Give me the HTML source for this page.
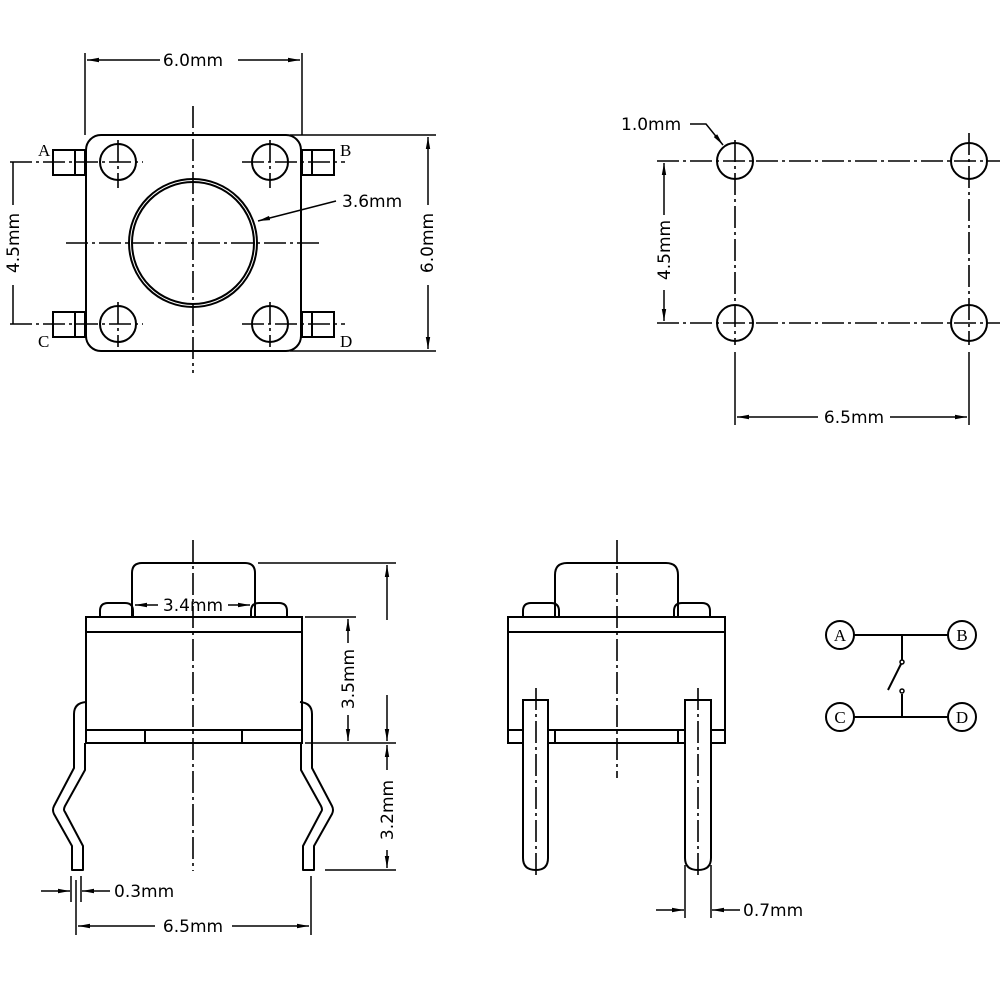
<!DOCTYPE html>
<html><head><meta charset="utf-8"><style>
html,body{margin:0;padding:0;background:#fff;}
svg{display:block;}
text{font-family:"DejaVu Sans","Liberation Sans",sans-serif;font-size:17px;fill:#000;}
.s{font-family:"Liberation Serif",serif;font-size:17px;}
</style></head><body>
<svg width="1000" height="1000" viewBox="0 0 1000 1000" xmlns="http://www.w3.org/2000/svg">
<defs>
<marker id="a" viewBox="0 0 12 6" refX="12" refY="3" markerWidth="12" markerHeight="6" orient="auto-start-reverse" markerUnits="userSpaceOnUse"><path d="M0,0.8 L12,3 L0,5.2 z" fill="#000"/></marker>
</defs>
<g fill="none" stroke="#000" stroke-width="2">
<!-- ===== TOP LEFT ===== -->
<rect x="86" y="135" width="215" height="216" rx="15"/>
<rect x="53" y="150" width="32" height="25"/><line x1="75" y1="150" x2="75" y2="175"/>
<rect x="53" y="312" width="32" height="25"/><line x1="75" y1="312" x2="75" y2="337"/>
<rect x="302" y="150" width="32" height="25"/><line x1="312" y1="150" x2="312" y2="175"/>
<rect x="302" y="312" width="32" height="25"/><line x1="312" y1="312" x2="312" y2="337"/>
<circle cx="118" cy="162" r="18"/><circle cx="270" cy="162" r="18"/>
<circle cx="118" cy="324" r="18"/><circle cx="270" cy="324" r="18"/>
<circle cx="193" cy="243" r="64"/><circle cx="193" cy="243" r="61"/>
<g stroke-width="1.6" stroke-dasharray="22,4,3,4">
<line x1="193" y1="106" x2="193" y2="373"/>
<line x1="66" y1="243" x2="322" y2="243"/>
<line x1="118" y1="140" x2="118" y2="188"/><line x1="270" y1="140" x2="270" y2="188"/>
<line x1="118" y1="302" x2="118" y2="347"/><line x1="270" y1="302" x2="270" y2="347"/>
<line x1="10" y1="162" x2="143" y2="162"/><line x1="242" y1="162" x2="345" y2="162"/>
<line x1="10" y1="324" x2="143" y2="324"/><line x1="242" y1="324" x2="345" y2="324"/>
</g>
<g stroke-width="1.5">
<line x1="85" y1="53" x2="85" y2="135"/><line x1="302" y1="53" x2="302" y2="135"/>
<line x1="87" y1="60" x2="160" y2="60" marker-start="url(#a)"/><line x1="238" y1="60" x2="300" y2="60" marker-end="url(#a)"/>
<line x1="290" y1="135" x2="436" y2="135"/><line x1="290" y1="351" x2="436" y2="351"/>
<line x1="428" y1="137" x2="428" y2="205" marker-start="url(#a)"/><line x1="428" y1="285" x2="428" y2="349" marker-end="url(#a)"/>
<line x1="13" y1="162" x2="13" y2="205"/><line x1="13" y1="285" x2="13" y2="324"/>
<line x1="336" y1="201" x2="258" y2="221" marker-end="url(#a)"/>
</g>
<!-- ===== TOP RIGHT ===== -->
<circle cx="735" cy="161" r="18"/><circle cx="969" cy="161" r="18"/>
<circle cx="735" cy="323" r="18"/><circle cx="969" cy="323" r="18"/>
<g stroke-width="1.6" stroke-dasharray="22,4,3,4">
<line x1="657" y1="161" x2="1000" y2="161"/><line x1="657" y1="323" x2="1000" y2="323"/>
<line x1="735" y1="140" x2="735" y2="345"/><line x1="969" y1="133" x2="969" y2="345"/>
</g>
<g stroke-width="1.5">
<line x1="735" y1="352" x2="735" y2="425"/><line x1="969" y1="352" x2="969" y2="425"/>
<line x1="737" y1="417" x2="818" y2="417" marker-start="url(#a)"/><line x1="890" y1="417" x2="967" y2="417" marker-end="url(#a)"/>
<line x1="664" y1="163" x2="664" y2="215" marker-start="url(#a)"/><line x1="664" y1="290" x2="664" y2="321" marker-end="url(#a)"/>
<polyline points="690,124 706,124 723,145" marker-end="url(#a)"/>
</g>
<!-- ===== BOTTOM LEFT ===== -->
<path d="M132,617 V573 Q132,563 142,563 H245 Q255,563 255,573 V617"/>
<path d="M100,617 V611 Q100,603 108,603 H125 Q133,603 133,611 V617"/>
<path d="M251,617 V611 Q251,603 259,603 H279 Q287,603 287,611 V617"/>
<rect x="86" y="617" width="216" height="126"/>
<line x1="86" y1="632" x2="302" y2="632"/><line x1="86" y1="730" x2="302" y2="730"/>
<line x1="145" y1="730" x2="145" y2="743"/><line x1="242" y1="730" x2="242" y2="743"/>
<g stroke-linejoin="round">
<path d="M86,702 Q74,703 74,714 V768 L54,806 Q52,810 54,814 L72,846 V870 H83 V846 L65,812 Q63,810 65,806 L85,770 V743"/>
<path d="M300,702 Q312,703 312,714 V768 L332,806 Q334,810 332,814 L314,846 V870 H303 V846 L321,812 Q323,810 321,806 L301,770 V743"/>
</g>
<line x1="193" y1="540" x2="193" y2="871" stroke-width="1.6" stroke-dasharray="22,4,3,4"/>
<g stroke-width="1.5">
<line x1="135" y1="605" x2="158" y2="605" marker-start="url(#a)"/><line x1="228" y1="605" x2="250" y2="605" marker-end="url(#a)"/>
<line x1="258" y1="563" x2="396" y2="563"/><line x1="305" y1="617" x2="356" y2="617"/>
<line x1="305" y1="743" x2="396" y2="743"/><line x1="325" y1="870" x2="396" y2="870"/>
<line x1="387" y1="565" x2="387" y2="620" marker-start="url(#a)"/><line x1="387" y1="695" x2="387" y2="741" marker-end="url(#a)"/>
<line x1="348" y1="619" x2="348" y2="643" marker-start="url(#a)"/><line x1="348" y1="715" x2="348" y2="741" marker-end="url(#a)"/>
<line x1="387" y1="745" x2="387" y2="770" marker-start="url(#a)"/><line x1="387" y1="850" x2="387" y2="868" marker-end="url(#a)"/>
<line x1="71" y1="876" x2="71" y2="902"/><line x1="81" y1="876" x2="81" y2="902"/>
<line x1="41" y1="891" x2="70" y2="891" marker-end="url(#a)"/><line x1="110" y1="891" x2="82" y2="891" marker-end="url(#a)"/>
<line x1="76" y1="880" x2="76" y2="935"/><line x1="311" y1="876" x2="311" y2="935"/>
<line x1="78" y1="926" x2="155" y2="926" marker-start="url(#a)"/><line x1="232" y1="926" x2="309" y2="926" marker-end="url(#a)"/>
</g>
<!-- ===== BOTTOM MIDDLE ===== -->
<path d="M555,617 V575 Q555,563 567,563 H666 Q678,563 678,575 V617"/>
<path d="M523,617 V611 Q523,603 531,603 H551 Q559,603 559,611 V617"/>
<path d="M674,617 V611 Q674,603 682,603 H702 Q710,603 710,611 V617"/>
<rect x="508" y="617" width="217" height="126"/>
<line x1="508" y1="632" x2="725" y2="632"/><line x1="508" y1="730" x2="725" y2="730"/>
<line x1="555" y1="730" x2="555" y2="743"/><line x1="678" y1="730" x2="678" y2="743"/>
<path d="M523,700 H548 V858 Q548,870 536,870 Q523,870 523,858 Z" fill="#fff"/>
<path d="M685,700 H711 V858 Q711,870 698,870 Q685,870 685,858 Z" fill="#fff"/>
<g stroke-width="1.6" stroke-dasharray="22,4,3,4">
<line x1="617" y1="540" x2="617" y2="778"/>
<line x1="536" y1="688" x2="536" y2="878"/><line x1="698" y1="688" x2="698" y2="878"/>
</g>
<g stroke-width="1.5">
<line x1="685" y1="865" x2="685" y2="918"/><line x1="711" y1="865" x2="711" y2="918"/>
<line x1="656" y1="910" x2="684" y2="910" marker-end="url(#a)"/><line x1="740" y1="910" x2="712" y2="910" marker-end="url(#a)"/>
</g>
<!-- ===== SCHEMATIC ===== -->
<circle cx="840" cy="635" r="14"/><circle cx="962" cy="635" r="14"/>
<circle cx="840" cy="717" r="14"/><circle cx="962" cy="717" r="14"/>
<line x1="854" y1="635" x2="948" y2="635"/><line x1="854" y1="717" x2="948" y2="717"/>
<line x1="902" y1="635" x2="902" y2="660"/><line x1="902" y1="694" x2="902" y2="717"/>
<circle cx="902" cy="662" r="2" stroke-width="1.5"/><circle cx="902" cy="691" r="2" stroke-width="1.5"/>
<line x1="888" y1="690" x2="901" y2="664"/>
</g>
<text x="193" y="66" text-anchor="middle">6.0mm</text>
<text x="342" y="207">3.6mm</text>
<text transform="translate(433,243) rotate(-90)" text-anchor="middle">6.0mm</text>
<text transform="translate(19,243) rotate(-90)" text-anchor="middle">4.5mm</text>
<text class="s" x="38" y="156">A</text><text class="s" x="340" y="156">B</text>
<text class="s" x="38" y="347">C</text><text class="s" x="340" y="347">D</text>
<text x="621" y="130">1.0mm</text>
<text transform="translate(670,250) rotate(-90)" text-anchor="middle">4.5mm</text>
<text x="854" y="423" text-anchor="middle">6.5mm</text>
<text x="193" y="611" text-anchor="middle">3.4mm</text>
<text transform="translate(354,679) rotate(-90)" text-anchor="middle">3.5mm</text>
<text transform="translate(393,810) rotate(-90)" text-anchor="middle">3.2mm</text>
<text x="114" y="897">0.3mm</text>
<text x="193" y="932" text-anchor="middle">6.5mm</text>
<text x="743" y="916">0.7mm</text>
<text class="s" x="840" y="641" text-anchor="middle">A</text><text class="s" x="962" y="641" text-anchor="middle">B</text>
<text class="s" x="840" y="723" text-anchor="middle">C</text><text class="s" x="962" y="723" text-anchor="middle">D</text>
</svg>
</body></html>
